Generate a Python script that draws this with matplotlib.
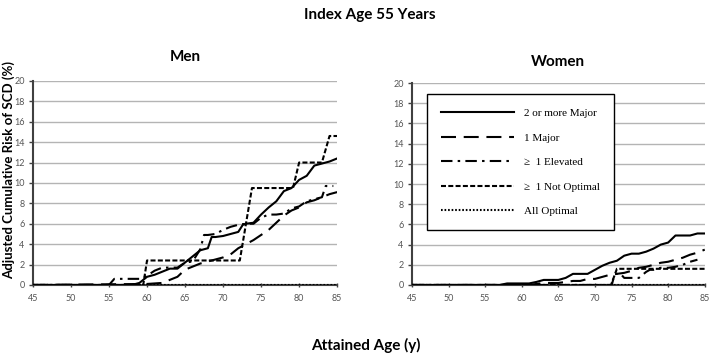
import matplotlib
matplotlib.use("Agg")
import matplotlib.pyplot as plt

plt.rcParams['font.family'] = ['Lato', 'DejaVu Sans']

### Values (age in years, risk in %) ###
labels = ['2 or more Major', '1 Major', '\u2265  1 Elevated', '\u2265  1 Not Optimal', 'All Optimal']
x_ticks = [45, 50, 55, 60, 65, 70, 75, 80, 85]
y_ticks = [0, 2, 4, 6, 8, 10, 12, 14, 16, 18, 20]

# Men
men_major2_x = [45, 58, 59, 60, 61, 62, 63, 64, 65, 66, 67, 68, 68.5, 69, 70, 71, 72, 72.6, 73, 74,
                75, 76, 77, 78, 79, 80, 81, 82, 83, 84, 85]
men_major2_y = [0, 0, 0.2, 0.8, 1.0, 1.3, 1.6, 1.6, 2.2, 2.8, 3.4, 3.6, 4.7, 4.7, 4.8, 5.0, 5.2, 5.9, 6.0, 6.1,
                6.9, 7.6, 8.2, 9.2, 9.5, 10.3, 10.7, 11.7, 11.9, 12.1, 12.4]
men_major1_x = [45, 60, 62, 64, 65, 66, 67, 68, 69, 70, 71, 72, 73, 74, 75, 76, 77, 78, 79, 80,
                81, 82, 83, 84, 85]
men_major1_y = [0, 0.1, 0.2, 0.8, 1.5, 1.8, 2.1, 2.3, 2.5, 2.7, 3.0, 3.6, 4.0, 4.4, 4.9, 5.4, 6.1, 6.8, 7.3, 7.6,
                8.1, 8.3, 8.6, 8.9, 9.1]
men_elev_x = [45, 55, 55.7, 59, 60, 61, 62, 63, 64, 65, 66, 67, 67.5, 68, 69, 70, 71, 72, 73, 74,
              75, 76, 77, 78, 79, 80, 81, 82, 83, 83.5, 84.5]
men_elev_y = [0, 0, 0.6, 0.6, 0.9, 1.4, 1.7, 1.7, 1.7, 2.2, 2.3, 3.5, 4.9, 4.9, 5.0, 5.4, 5.7, 5.9, 6.0, 6.0,
              6.6, 6.9, 6.9, 7.0, 7.5, 7.7, 8.2, 8.4, 8.6, 9.7, 9.7]
men_notopt_x = [45, 59.5, 60, 72.2, 73.8, 79.2, 80, 83, 84, 85]
men_notopt_y = [0, 0, 2.4, 2.4, 9.5, 9.5, 12.0, 12.0, 14.6, 14.6]
men_allopt_x = [45, 85]
men_allopt_y = [0, 0]

# Women
women_major2_x = [45, 57, 58, 61, 62, 63, 65, 66, 67, 69, 70, 71, 72, 73, 74, 75, 76, 77, 78, 79,
                  80, 81, 83, 84, 85]
women_major2_y = [0, 0, 0.15, 0.15, 0.3, 0.5, 0.5, 0.7, 1.1, 1.1, 1.5, 1.9, 2.2, 2.4, 2.9, 3.1, 3.1, 3.3, 3.6, 4.0,
                  4.2, 4.9, 4.9, 5.1, 5.1]
women_major1_x = [45, 61, 62, 63, 65, 66, 67, 68, 69, 70, 71, 72, 73, 74, 75, 76, 77, 78, 79, 80,
                  81, 82, 83, 84, 85]
women_major1_y = [0, 0, 0.1, 0.2, 0.2, 0.3, 0.4, 0.4, 0.6, 0.6, 0.8, 1.0, 1.1, 1.2, 1.4, 1.7, 1.8, 2.0, 2.2, 2.3,
                  2.5, 2.7, 3.0, 3.2, 3.5]
women_elev_x = [45, 72.3, 72.7, 73.5, 74, 76, 77, 77.5, 78, 79, 80, 81, 82, 83, 84]
women_elev_y = [0, 0, 1.1, 1.1, 0.7, 0.7, 1.3, 1.5, 1.5, 1.7, 1.7, 1.8, 2.0, 2.3, 2.5]
women_notopt_x = [45, 72.2, 73, 85]
women_notopt_y = [0, 0, 1.6, 1.6]
women_allopt_x = [45, 85]
women_allopt_y = [0, 0]

styles = [dict(ls='-'),
          dict(ls=(0, (7.2, 3.7))),
          dict(ls=(0, (5.5, 2.5, 1.2, 2.5))),
          dict(ls=(0, (2.4, 1.1))),
          dict(ls=(0, (0.8, 0.9)))]

fig = plt.figure(figsize=(7.09, 3.58), dpi=100)
ax_m = fig.add_axes([0.0465, 0.204, 0.429, 0.570])
ax_w = fig.add_axes([0.581, 0.204, 0.413, 0.564])

men = [(men_major2_x, men_major2_y), (men_major1_x, men_major1_y), (men_elev_x, men_elev_y),
       (men_notopt_x, men_notopt_y), (men_allopt_x, men_allopt_y)]
women = [(women_major2_x, women_major2_y), (women_major1_x, women_major1_y), (women_elev_x, women_elev_y),
         (women_notopt_x, women_notopt_y), (women_allopt_x, women_allopt_y)]

for ax, series in [(ax_m, men), (ax_w, women)]:
    for (xs, ys), st, lab in zip(series, styles, labels):
        ax.plot(xs, ys, color='black', lw=1.5, label=lab, zorder=3, **st)
    ax.set_xlim(45, 85)
    ax.set_ylim(0, 20)
    ax.set_xticks(x_ticks)
    ax.set_yticks(y_ticks)
    ax.grid(axis='y', color='#b4b4b4', lw=1)
    ax.set_axisbelow(True)
    for s in ['top', 'right']:
        ax.spines[s].set_visible(False)
    for s in ['left', 'bottom']:
        ax.spines[s].set_color('#404040')
        ax.spines[s].set_linewidth(1.5)
    ax.tick_params(axis='both', labelsize=6.5, labelcolor='#555555', color='#404040', length=3, width=1)
    ax.tick_params(axis='x', direction='inout', pad=5)
    ax.tick_params(axis='y', pad=3)

ax_m.set_title('Men', fontsize=11, fontweight='bold', pad=14)
ax_w.set_title('Women', fontsize=11, fontweight='bold', pad=12)

leg = ax_w.legend(loc='upper left', bbox_to_anchor=(427 / 709, 1 - 94 / 358), bbox_transform=fig.transFigure,
                  prop={'family': 'Liberation Serif', 'size': 8}, handlelength=6.5, handletextpad=0.9,
                  labelspacing=1.32, borderpad=1.3, borderaxespad=0, fancybox=False, framealpha=1)
leg.get_frame().set_edgecolor('black')
leg.get_frame().set_linewidth(1)

fig.text(0.522, 0.958, 'Index Age 55 Years', ha='center', va='center', fontsize=11, fontweight='bold')
fig.text(0.516, 0.034, 'Attained Age (y)', ha='center', va='center', fontsize=11, fontweight='bold')
fig.text(0.013, 0.525, 'Adjusted Cumulative Risk of SCD (%)', ha='center', va='center', rotation=90,
         fontsize=9.5, fontweight='bold')

fig.savefig('out.png', dpi=100)
